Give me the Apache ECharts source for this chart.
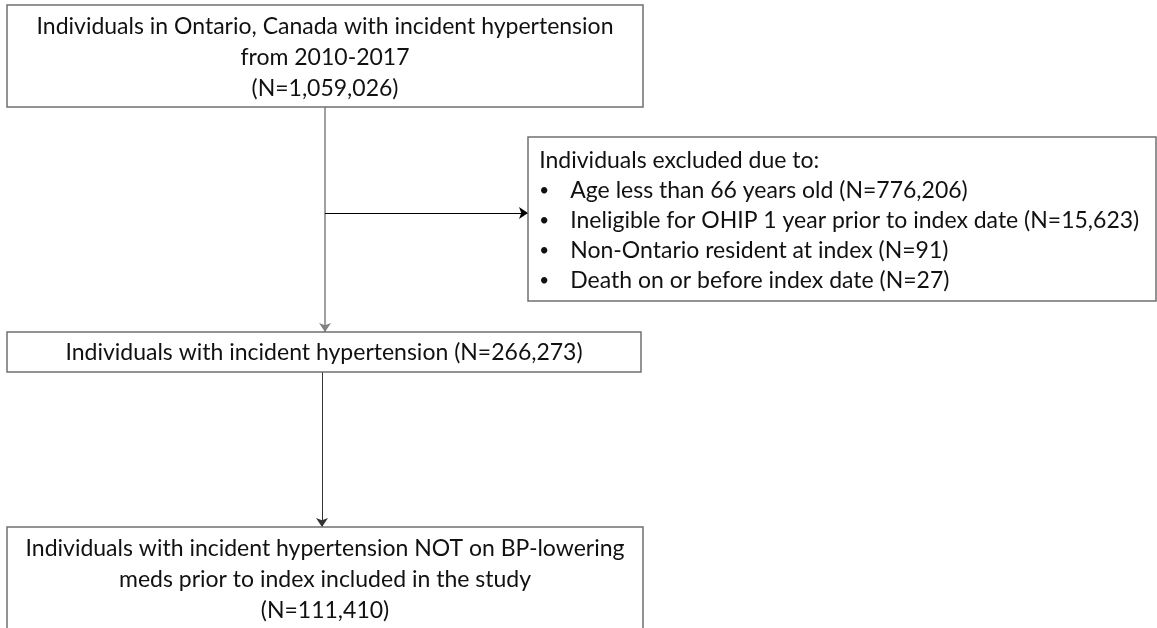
<!DOCTYPE html>
<html>
<head>
<meta charset="utf-8">
<title>Cohort flow</title>
<script src="https://cdn.jsdelivr.net/npm/echarts@6/dist/echarts.min.js"></script>
<style>html,body{margin:0;background:#fff;}</style>
</head>
<body>
<div id="main" style="width:1157px;height:628px;"></div>
<script type="text/javascript">
// chart data
var cohortLabels = [
    'Individuals in Ontario, Canada with incident hypertension\nfrom 2010-2017',
    'Individuals with incident hypertension',
    'Individuals with incident hypertension NOT on BP-lowering\nmeds prior to index included in the study'
];
var cohortCounts = [1059026, 266273, 111410];
var exclusionTitle = 'Individuals excluded due to:';
var exclusionReasons = [
    'Age less than 66 years old',
    'Ineligible for OHIP 1 year prior to index date',
    'Non-Ontario resident at index',
    'Death on or before index date'
];
var exclusionCounts = [776206, 15623, 91, 27];

// layout (pixels: x0, y0, x1, y1)
var cohortBoxes = [[7, 5, 643, 107], [7, 332, 641, 372], [7, 527, 643, 633]];
var countJoin = ['\n', ' ', '\n'];
var textNudge = [2, 1, 0];
var exclusionBox = [[528, 137, 1156, 301]];
var arrowPaths = [
    [[325, 107], [325, 332]],
    [[325, 213], [528, 213]],
    [[322, 372], [322, 527]]
];
var arrowColors = ['#808080', '#000', '#333'];
var arrowWidths = [1.5, 1, 1];

var FONT = 'Lato';
var FSIZE = 23;
function fmt(n) { return '(N=' + n.toLocaleString('en-US') + ')'; }

function boxShape(api) {
    var p0 = api.coord([api.value(0), api.value(1)]);
    var p1 = api.coord([api.value(2), api.value(3)]);
    return { x: p0[0], y: p0[1], width: p1[0] - p0[0], height: p1[1] - p0[1] };
}

var exclText = exclusionTitle + '\n' + exclusionReasons.map(function (r, i) {
    return '{b|\u2022}' + r + ' ' + fmt(exclusionCounts[i]);
}).join('\n');

var myChart = echarts.init(document.getElementById('main'));
myChart.setOption({
    animation: false,
    backgroundColor: '#fff',
    grid: { left: 0, right: 0, top: 0, bottom: 0 },
    xAxis: { type: 'value', min: 0, max: 1157, show: false },
    yAxis: { type: 'value', min: 0, max: 628, inverse: true, show: false },
    series: [{
        // arrows
        type: 'lines',
        coordinateSystem: 'cartesian2d',
        silent: true,
        symbol: ['none', 'arrow'],
        symbolSize: 9,
        data: arrowPaths.map(function (c, i) {
            return { coords: c, lineStyle: { color: arrowColors[i], width: arrowWidths[i], opacity: 1 } };
        }),
        z: 1
    }, {
        // cohort boxes
        type: 'custom',
        silent: true,
        data: cohortBoxes,
        z: 2,
        renderItem: function (params, api) {
            var i = params.dataIndex;
            return {
                type: 'rect',
                shape: boxShape(api),
                style: { fill: '#fff', stroke: '#707070', lineWidth: 1.5 },
                textContent: {
                    style: {
                        text: cohortLabels[i] + countJoin[i] + fmt(cohortCounts[i]),
                        fontFamily: FONT,
                        fontSize: FSIZE,
                        lineHeight: 31,
                        fill: '#111',
                        align: 'center'
                    }
                },
                textConfig: { position: 'inside', offset: [0, textNudge[i]] }
            };
        }
    }, {
        // exclusion box
        type: 'custom',
        silent: true,
        data: exclusionBox,
        z: 2,
        renderItem: function (params, api) {
            return {
                type: 'rect',
                shape: boxShape(api),
                style: { fill: '#fff', stroke: '#707070', lineWidth: 1.5 },
                textContent: {
                    style: {
                        text: exclText,
                        fontFamily: FONT,
                        fontSize: FSIZE,
                        lineHeight: 30,
                        fill: '#111',
                        align: 'left',
                        verticalAlign: 'top',
                        rich: {
                            b: { width: 31, fontFamily: FONT, fontSize: 17, lineHeight: 30, fill: '#111' }
                        }
                    }
                },
                textConfig: { position: [12, 9] }
            };
        }
    }]
});
</script>
</body>
</html>
